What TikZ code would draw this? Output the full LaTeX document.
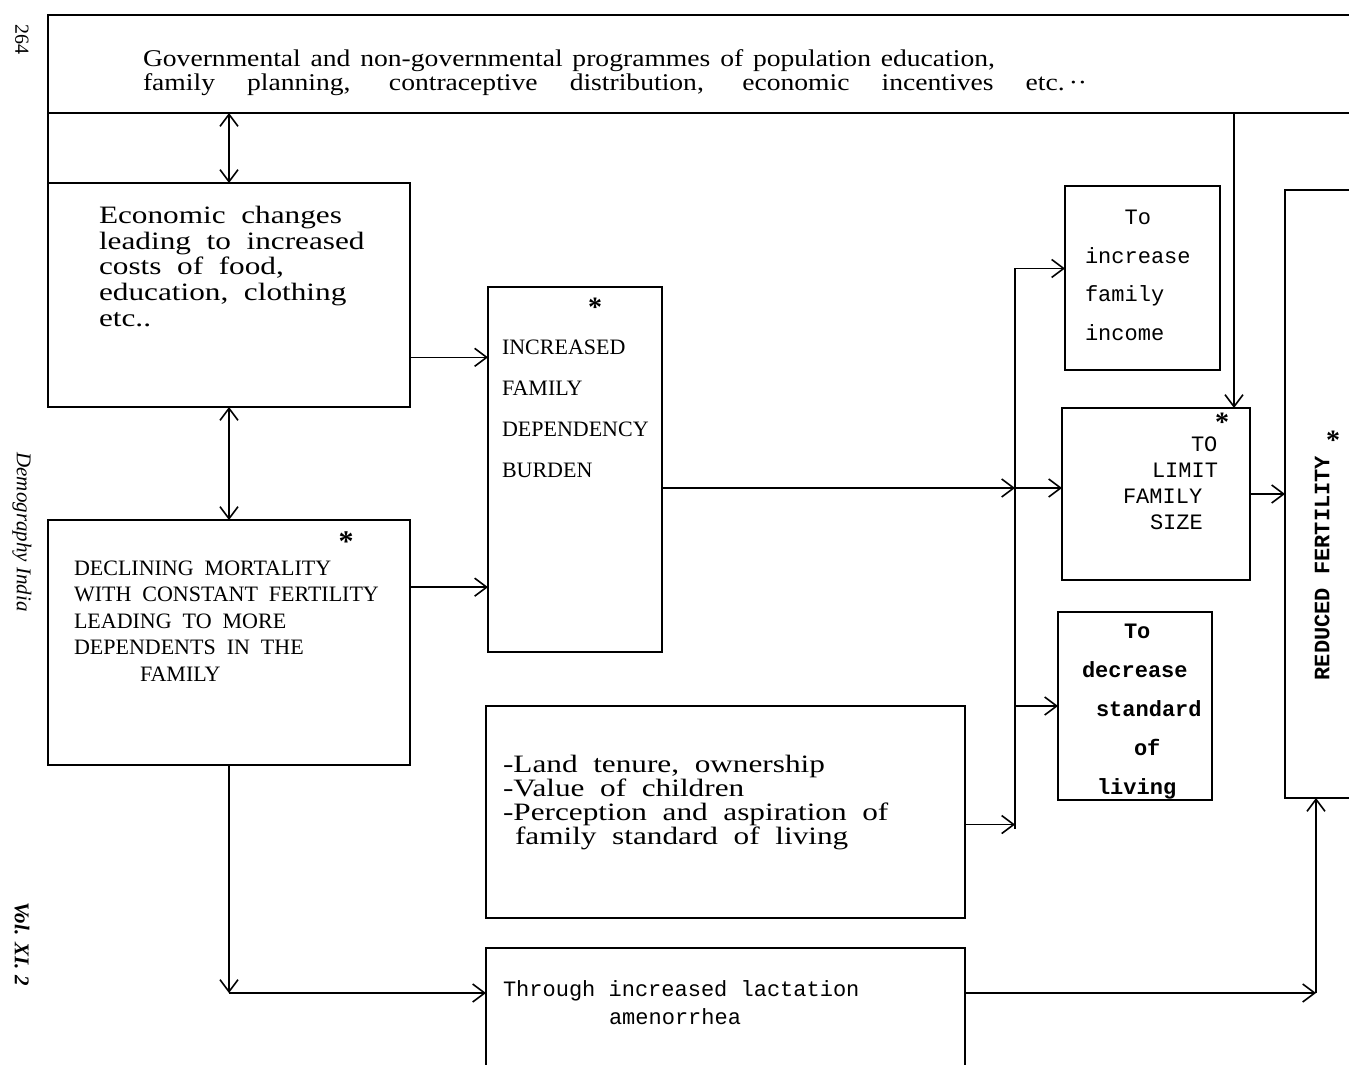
\documentclass[tikz,border=0pt]{standalone}
\usepackage{fontspec}
\setmainfont{Liberation Serif}
\newfontfamily\wideserif{Liberation Serif}[FakeStretch=1.15]
\newfontfamily\widerserif{Liberation Serif}[FakeStretch=1.25]
\newfontfamily\typew{Liberation Mono}
\usetikzlibrary{arrows.meta}
\newcommand{\spread}[2]{\makebox[#1][s]{#2}}

\begin{document}
\begin{tikzpicture}[x=0.5pt,y=-0.5pt,
	every node/.style={inner sep=0,outer sep=0},
	>={Straight Barb[length=6pt,width=9pt]},
	box/.style={draw,line width=1pt},
	link/.style={line width=0.8pt},
	txt/.style={anchor=north west,align=left}]
	\useasboundingbox (0,0) rectangle (1349,1065);
	\clip (0,0) rectangle (1349,1065);
	\fill[white] (0,0) rectangle (1349,1065);
	\node[box,minimum width=686pt,minimum height=49pt] (prog) at (734,64) {};
	\node[box,minimum width=181pt,minimum height=112pt] (eco) at (229,295) {};
	\node[box,minimum width=181pt,minimum height=122.5pt] (decl) at (229,642.5) {};
	\node[box,minimum width=87pt,minimum height=182.5pt] (dep) at (575,469.5) {};
	\node[box,minimum width=239.5pt,minimum height=106pt] (land) at (725.5,812) {};
	\node[box,minimum width=239.5pt,minimum height=76pt] (lact) at (725.5,1024) {};
	\node[box,minimum width=77.5pt,minimum height=92pt] (inc) at (1142.5,278) {};
	\node[box,minimum width=94pt,minimum height=86pt] (lim) at (1156,494) {};
	\node[box,minimum width=77pt,minimum height=94pt] (dec) at (1135,706) {};
	\node[box,minimum width=67.5pt,minimum height=304pt] (red) at (1352.5,494) {};
	\draw[box] (prog.south west) -- (eco.north west);
	\node[txt,font=\wideserif\fontsize{12}{10.5}\selectfont] (progtext) at (143,50)
		{\spread{426pt}{Governmental and non-governmental programmes of population education,}\\
		\spread{472pt}{family planning, contraceptive distribution, economic incentives etc.\,··}};
	\node[txt,font=\widerserif\fontsize{12.5}{12.9}\selectfont] (ecotext) at (99,206)
		{Economic\ \ changes\\leading\ \ to\ \ increased\\costs\ \ of\ \ food,\\education,\ \ clothing\\etc..};
	\node[txt,font=\fontsize{11}{13.2}\selectfont] (decltext) at (74,561)
		{DECLINING\ \ MORTALITY\\WITH\ \ CONSTANT\ \ FERTILITY\\LEADING\ \ TO\ \ MORE\\DEPENDENTS\ \ IN\ \ THE\\\hspace*{33pt}FAMILY};
	\node[font=\bfseries\fontsize{15}{15}\selectfont] (declstar) at (346,542) {*};
	\node[txt,font=\fontsize{11}{20.5}\selectfont] (deptext) at (502,340)
		{INCREASED\\FAMILY\\DEPENDENCY\\BURDEN};
	\node[font=\bfseries\fontsize{14}{14}\selectfont] (depstar) at (595,307) {*};
	\node[txt,font=\widerserif\fontsize{12.5}{12}\selectfont] (landtext) at (503,755)
		{-Land\ \ tenure,\ \ ownership\\-Value\ \ of\ \ children\\-Perception\ \ and\ \ aspiration\ \ of\\\hspace*{6pt}family\ \ standard\ \ of\ \ living};
	\node[txt,font=\typew\fontsize{11}{14}\selectfont] (lacttext) at (503,981)
		{Through increased lactation\\\hspace*{53pt}amenorrhea};
	\node[txt,font=\typew\fontsize{11}{19.3}\selectfont] (inctext) at (1085,210)
		{\hspace*{19.8pt}To\\increase\\family\\income};
	\node[txt,font=\typew\fontsize{11}{13}\selectfont] (limtext) at (1123,437)
		{\hspace*{34pt}TO\\\hspace*{14.5pt}LIMIT\\FAMILY\\\hspace*{13.5pt}SIZE};
	\node[font=\bfseries\fontsize{14}{14}\selectfont] (limstar) at (1222,422) {*};
	\node[txt,font=\typew\bfseries\fontsize{11}{19.5}\selectfont] (dectext) at (1082,624)
		{\hspace*{21pt}To\\decrease\\\hspace*{7pt}standard\\\hspace*{26pt}of\\\hspace*{7.5pt}living};
	\node[rotate=90,font=\typew\bfseries\fontsize{11}{11}\selectfont] (redtext) at (1322,568) {REDUCED FERTILITY};
	\node[font=\bfseries\fontsize{14}{14}\selectfont] (redstar) at (1333,440) {*};
	\node[rotate=-90,font=\fontsize{10}{10}\selectfont] (page) at (22,40) {264};
	\node[rotate=-90,font=\itshape\fontsize{10.5}{10.5}\selectfont] (journal) at (22,532) {Demography India};
	\node[rotate=-90,font=\itshape\bfseries\fontsize{10.5}{10.5}\selectfont] (volume) at (22,944) {Vol. XI. 2};
	\coordinate (split) at (1015,488);
	\coordinate (drop) at (1234,408);
	\coordinate (bend) at (229,993);
	\coordinate (rise) at (1316,993);
	\draw[link,<->] (eco.north |- prog.south) -- (eco.north);
	\draw[link,<->] (eco.south) -- (decl.north);
	\draw[link,->] (eco.-19) -- (eco.-19 -| dep.west);
	\draw[link,->] (decl.17) -- (decl.17 -| dep.west);
	\draw[link,->] (dep.-12) -- (split);
	\draw[link] (split |- inc.173) -- (split |- land.-4);
	\draw[link,->] (split |- inc.173) -- (inc.173);
	\draw[link,->] (split) -- (split -| lim.west);
	\draw[link,->] (split |- dec.west) -- (dec.west);
	\draw[link,->] (land.-3) -- (land.-3 -| split);
	\draw[link,->] (prog.south -| drop) -- (drop);
	\draw[link,->] (lim.east) -- (lim.east -| red.west);
	\draw[link,->] (decl.south) -- (bend);
	\draw[link,->] (bend) -- (bend -| lact.west);
	\draw[link,->] (lact.east |- rise) -- (rise);
	\draw[link,->] (rise) -- (rise |- red.south);
\end{tikzpicture}
\end{document}
